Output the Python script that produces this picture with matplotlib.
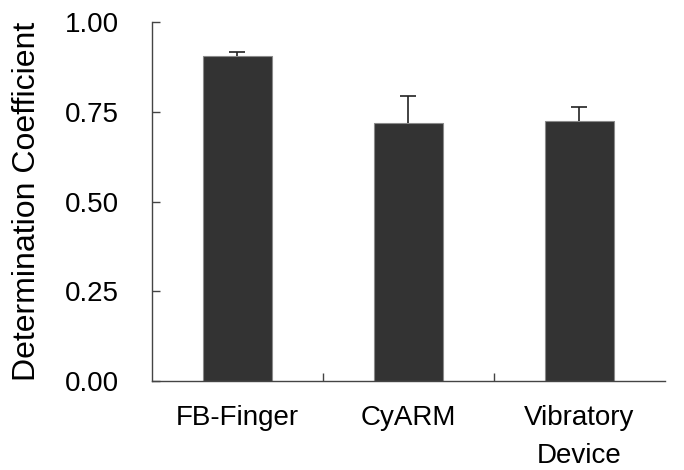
import numpy as np
import matplotlib.pyplot as plt

plt.rcParams['font.family'] = ['Liberation Sans', 'DejaVu Sans']

devices = ["FB-Finger", "CyARM", "Vibratory\nDevice"]
coeff = [0.906, 0.719, 0.725]
err = [0.011, 0.075, 0.038]
yticks = [0.00, 0.25, 0.50, 0.75, 1.00]

fig = plt.figure(figsize=(6.84, 4.70), dpi=100)
ax = fig.add_axes([0.2222, 0.1894, 0.7500, 0.7636])

x = np.arange(len(devices))
ax.bar(x, coeff, width=0.405, color="#333333", edgecolor="#8a8a8a", linewidth=0.8)
_, caps, _ = ax.errorbar(x, coeff, yerr=[np.zeros(len(err)), err], fmt="none",
                         ecolor="#222222", elinewidth=1.2, capsize=6, capthick=1.2)
caps[0].set_visible(False)  # only the upper cap

ax.set_xlim(-0.5, len(devices) - 0.5)
ax.set_ylim(0, 1.0)
ax.set_yticks(yticks)
ax.set_yticklabels(["%.2f" % v for v in yticks])
ax.set_xticks(x)
ax.set_xticklabels(devices, linespacing=1.62)
ax.set_xticks(x[:-1] + 0.5, minor=True)

ax.tick_params(axis="y", direction="in", length=6, width=1, pad=24, labelsize=20, color="#444444")
ax.tick_params(axis="x", which="major", length=0, pad=17, labelsize=20)
ax.tick_params(axis="x", which="minor", direction="in", length=6, width=1, color="#444444")

for side in ["top", "right"]:
    ax.spines[side].set_visible(False)
for side in ["left", "bottom"]:
    ax.spines[side].set_color("#444444")
    ax.spines[side].set_linewidth(1)

ax.set_ylabel("Determination Coefficient", fontsize=23, labelpad=16)

fig.savefig("out.png", dpi=100)
